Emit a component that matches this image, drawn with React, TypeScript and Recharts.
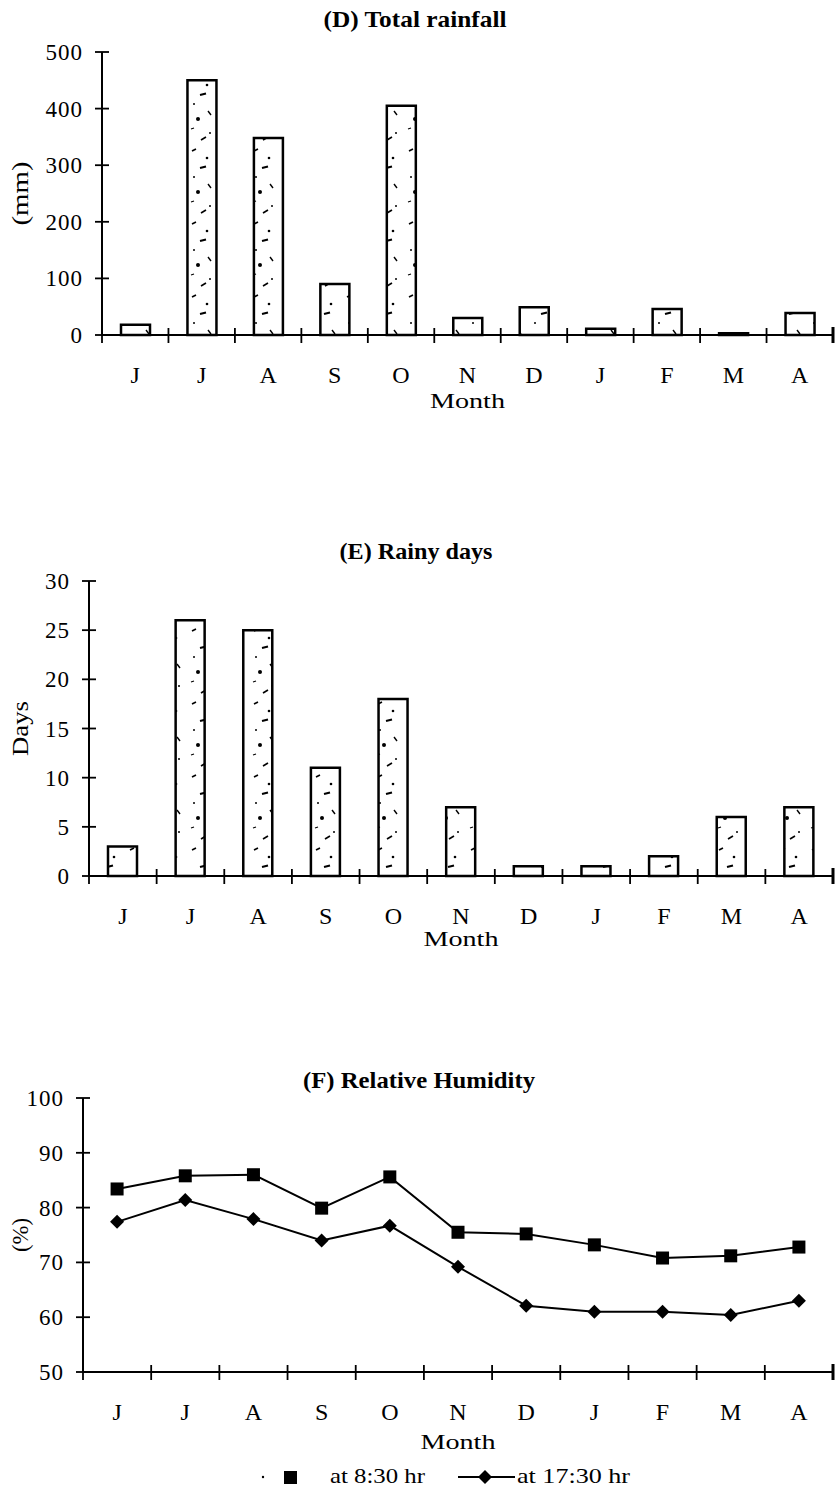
import React from 'react';
import { BarChart, Bar, ComposedChart, Line, XAxis, YAxis } from 'recharts';

const months = ['J', 'J', 'A', 'S', 'O', 'N', 'D', 'J', 'F', 'M', 'A'];
const rainfall = [18, 450, 348, 90, 405, 30, 49, 11, 46, 3, 39];
const rainyDays = [3, 26, 25, 11, 18, 7, 1, 1, 2, 6, 7];
const rh0830 = [83.4, 85.8, 86, 79.9, 85.6, 75.5, 75.2, 73.2, 70.8, 71.2, 72.8];
const rh1730 = [77.4, 81.4, 77.9, 74, 76.7, 69.2, 62.1, 61, 61, 60.4, 63];
const rainTicks = [0, 100, 200, 300, 400, 500];
const dayTicks = [0, 5, 10, 15, 20, 25, 30];
const rhTicks = [50, 60, 70, 80, 90, 100];

const FONT = "'Liberation Serif', 'Times New Roman', serif";
const TS = 7;
const TM = 10;

const rainData = months.map((m, i) => ({ i, value: rainfall[i] }));
const daysData = months.map((m, i) => ({ i, value: rainyDays[i] }));
const rhData = months.map((m, i) => ({ i, a: rh0830[i], b: rh1730[i] }));

const YTick = (props: any) => {
  const { x, y, payload } = props;
  const axisX = x + TM + TS;
  return (
    <g>
      <line x1={axisX - 7} x2={axisX + 7} y1={y} y2={y} stroke="#000" strokeWidth={1.8} />
      <text x={axisX - 19} y={y} dy="0.35em" textAnchor="end" fontFamily={FONT} fontSize={23} letterSpacing={1} fill="#000">
        {payload.value}
      </text>
    </g>
  );
};

const XTick = (props: any) => {
  const { x, y, payload, index, visibleTicksCount } = props;
  const axisY = y - TM - TS;
  const half = payload && typeof payload.offset === 'number' && payload.offset > 0 ? payload.offset : 33.5;
  const last = index === visibleTicksCount - 1;
  return (
    <g>
      <line x1={x - half} x2={x - half} y1={axisY - 7} y2={axisY + 8} stroke="#000" strokeWidth={1.8} />
      {last && <line x1={x + half} x2={x + half} y1={axisY - 8} y2={axisY + 8} stroke="#000" strokeWidth={3} />}
      <text x={x} y={axisY + 48} textAnchor="middle" fontFamily={FONT} fontSize={24} fill="#000">
        {months[payload.value]}
      </text>
    </g>
  );
};

const yLabel = (text: string, len: number) => (props: any) => {
  const vb = props.viewBox || {};
  const cy = vb.y + vb.height / 2;
  const cx = 20;
  return (
    <text x={cx} y={cy} transform={`rotate(-90 ${cx} ${cy})`} textAnchor="middle" dy="0.35em" fontFamily={FONT} fontSize={24} textLength={len} lengthAdjust="spacingAndGlyphs" fill="#000">
      {text}
    </text>
  );
};

const monthLabel = (baselineFromBottom: number) => (props: any) => {
  const vb = props.viewBox || {};
  const cx = vb.x + vb.width / 2;
  const y = vb.y + vb.height - baselineFromBottom;
  return (
    <text x={cx} y={y} textAnchor="middle" fontFamily={FONT} fontSize={22} textLength={75} lengthAdjust="spacingAndGlyphs" fill="#000">
      Month
    </text>
  );
};

const Square = (p: any) => {
  if (p.cx == null || p.cy == null) return <g key={p.index} />;
  return <rect key={`s${p.index}`} x={p.cx - 6.5} y={p.cy - 6.5} width={13} height={13} fill="#000" />;
};

const Diamond = (p: any) => {
  if (p.cx == null || p.cy == null) return <g key={p.index} />;
  const { cx, cy } = p;
  return <polygon key={`d${p.index}`} points={`${cx - 7},${cy} ${cx},${cy - 7} ${cx + 7},${cy} ${cx},${cy + 7}`} fill="#000" />;
};

const axisLine = { stroke: '#000', strokeWidth: 2 };

export default function App() {
  return (
    <div style={{ position: 'absolute', left: 0, top: 0, width: 837, height: 1512, background: '#fff', overflow: 'hidden' }}>
      <svg width={0} height={0} style={{ position: 'absolute' }}>
        <defs>
          <pattern id="speck" patternUnits="userSpaceOnUse" width={31} height={73}>
            <rect width={31} height={73} fill="#fff" />
            <path d="M6 5 l4 -2" stroke="#000" strokeWidth={1.6} />
            <circle cx={21} cy={12} r={1.3} fill="#000" />
            <path d="M14 22 l6 -1.5" stroke="#000" strokeWidth={2} />
            <circle cx={8} cy={31} r={1} fill="#000" />
            <path d="M22 38 l3 4" stroke="#000" strokeWidth={1.4} />
            <circle cx={12} cy={46} r={2} fill="#000" />
            <path d="M5 56 l3 -1" stroke="#000" strokeWidth={1.3} />
            <circle cx={24} cy={60} r={1} fill="#000" />
            <path d="M15 67 l5 -3" stroke="#000" strokeWidth={1.6} />
          </pattern>
        </defs>
      </svg>

      {/* (D) Total rainfall */}
      <div style={{ position: 'absolute', left: 0, top: 0 }}>
        <BarChart width={837} height={420} data={rainData} margin={{ top: 52, right: 4, bottom: 0, left: 0 }} barCategoryGap={0}>
          <XAxis dataKey="i" type="category" scale="band" interval={0} height={85} axisLine={axisLine} tickLine={false} tickSize={TS} tickMargin={TM} tick={<XTick />} label={monthLabel(12)} />
          <YAxis type="number" domain={[0, 500]} ticks={rainTicks} interval={0} width={102} axisLine={axisLine} tickLine={false} tickSize={TS} tickMargin={TM} tick={<YTick />} label={yLabel('(mm)', 64)} />
          <Bar dataKey="value" barSize={29} fill="url(#speck)" stroke="#000" strokeWidth={2.5} isAnimationActive={false} />
        </BarChart>
      </div>

      {/* (E) Rainy days */}
      <div style={{ position: 'absolute', left: 0, top: 480 }}>
        <BarChart width={837} height={480} data={daysData} margin={{ top: 101, right: 4, bottom: 0, left: 0 }} barCategoryGap={0}>
          <XAxis dataKey="i" type="category" scale="band" interval={0} height={84} axisLine={axisLine} tickLine={false} tickSize={TS} tickMargin={TM} tick={<XTick />} label={monthLabel(14)} />
          <YAxis type="number" domain={[0, 30]} ticks={dayTicks} interval={0} width={89} axisLine={axisLine} tickLine={false} tickSize={TS} tickMargin={TM} tick={<YTick />} label={yLabel('Days', 55)} />
          <Bar dataKey="value" barSize={29} fill="url(#speck)" stroke="#000" strokeWidth={2.5} isAnimationActive={false} />
        </BarChart>
      </div>

      {/* (F) Relative Humidity */}
      <div style={{ position: 'absolute', left: 0, top: 1000 }}>
        <ComposedChart width={837} height={512} data={rhData} margin={{ top: 98, right: 4, bottom: 0, left: 0 }}>
          <XAxis dataKey="i" type="category" scale="band" interval={0} height={140} axisLine={axisLine} tickLine={false} tickSize={TS} tickMargin={TM} tick={<XTick />} label={monthLabel(63)} />
          <YAxis type="number" domain={[50, 100]} ticks={rhTicks} interval={0} width={83} axisLine={axisLine} tickLine={false} tickSize={TS} tickMargin={TM} tick={<YTick />} label={yLabel('(%)', 34)} />
          <Line type="linear" dataKey="a" stroke="#000" strokeWidth={2} dot={Square} activeDot={false} isAnimationActive={false} />
          <Line type="linear" dataKey="b" stroke="#000" strokeWidth={2} dot={Diamond} activeDot={false} isAnimationActive={false} />
        </ComposedChart>
      </div>

      {/* titles and legend */}
      <svg width={837} height={1512} style={{ position: 'absolute', left: 0, top: 0, pointerEvents: 'none' }}>
        <text x={415} y={27} textAnchor="middle" fontFamily={FONT} fontWeight="bold" fontSize={23} textLength={183} lengthAdjust="spacingAndGlyphs" fill="#000">(D) Total rainfall</text>
        <text x={416} y={559} textAnchor="middle" fontFamily={FONT} fontWeight="bold" fontSize={23} textLength={153} lengthAdjust="spacingAndGlyphs" fill="#000">(E) Rainy days</text>
        <text x={419} y={1088} textAnchor="middle" fontFamily={FONT} fontWeight="bold" fontSize={23} textLength={232} lengthAdjust="spacingAndGlyphs" fill="#000">(F) Relative Humidity</text>

        <circle cx={263} cy={1477} r={1.2} fill="#000" />
        <rect x={284} y={1471} width={13} height={13} fill="#000" />
        <text x={330} y={1483} fontFamily={FONT} fontSize={21} textLength={95} lengthAdjust="spacingAndGlyphs" fill="#000">at 8:30 hr</text>
        <line x1={458} x2={515} y1={1477} y2={1477} stroke="#000" strokeWidth={2} />
        <polygon points="478,1477 485,1470 492,1477 485,1484" fill="#000" />
        <text x={517} y={1483} fontFamily={FONT} fontSize={21} textLength={113} lengthAdjust="spacingAndGlyphs" fill="#000">at 17:30 hr</text>
      </svg>
    </div>
  );
}
